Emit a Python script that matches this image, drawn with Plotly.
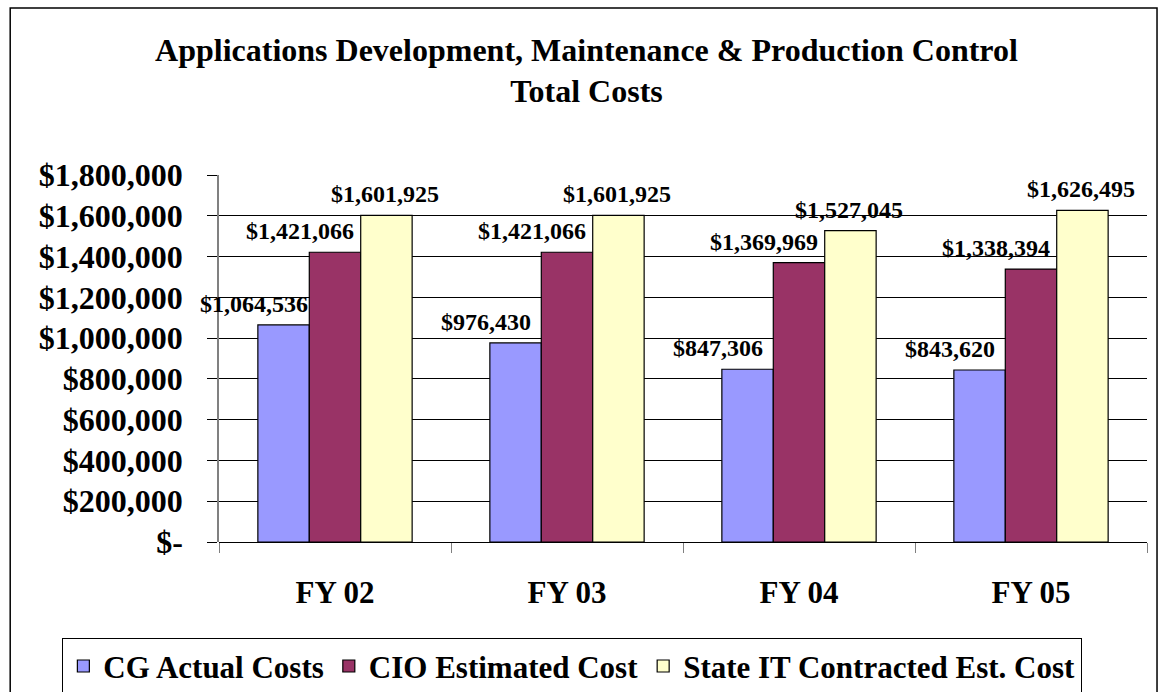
import plotly.graph_objects as go

categories = ["FY 02", "FY 03", "FY 04", "FY 05"]
cg_actual = [1064536, 976430, 847306, 843620]
cio_estimated = [1421066, 1421066, 1369969, 1338394]
state_it = [1601925, 1601925, 1527045, 1626495]

series_names = ["CG Actual Costs", "CIO Estimated Cost", "State IT Contracted Est. Cost"]
series_values = [cg_actual, cio_estimated, state_it]
series_colors = ["#9999FF", "#993366", "#FFFFCC"]
label_xshift = [-81, -35, 50]

tick_vals = [0, 200000, 400000, 600000, 800000, 1000000, 1200000, 1400000, 1600000, 1800000]
tick_text = ["$-", "$200,000", "$400,000", "$600,000", "$800,000", "$1,000,000",
             "$1,200,000", "$1,400,000", "$1,600,000", "$1,800,000"]

FONT = "Liberation Serif"

fig = go.Figure()
for name, vals, col in zip(series_names, series_values, series_colors):
    fig.add_trace(go.Bar(
        x=categories, y=vals, name=name,
        marker=dict(color=col, line=dict(color="black", width=1.2)),
    ))

annotations = []
for vals, xs in zip(series_values, label_xshift):
    for c, v in zip(categories, vals):
        annotations.append(dict(
            x=c, y=v, xref="x", yref="y", text=f"${v:,.0f}",
            showarrow=False, xanchor="center", yanchor="bottom",
            xshift=xs, yshift=6,
            font=dict(family=FONT, size=24, color="black", weight="bold"),
        ))

fig.update_layout(
    width=1159, height=692,
    paper_bgcolor="white", plot_bgcolor="white",
    margin=dict(l=219, r=12, t=175, b=150, autoexpand=False),
    barmode="group", bargap=0.335, bargroupgap=0,
    font=dict(family=FONT, color="black"),
    title=dict(
        text="Applications Development, Maintenance &amp; Production Control<br>Total Costs",
        x=0.506, xanchor="center", y=0.912, yanchor="top", yref="container",
        font=dict(family=FONT, size=32, color="black", weight="bold"),
    ),
    xaxis=dict(
        range=[-0.5, len(categories) - 0.5],
        showgrid=False, ticks="outside", tickson="boundaries", ticklen=10,
        tickcolor="#808080", showline=False, automargin=False,
        tickfont=dict(family=FONT, size=31, color="black", weight="bold"),
        ticklabelstandoff=29,
    ),
    yaxis=dict(
        range=[0, 1800000], tickvals=tick_vals, ticktext=tick_text,
        showgrid=True, gridcolor="black", gridwidth=1,
        ticks="outside", ticklen=10, tickcolor="black", automargin=False,
        showline=True, linecolor="#808080", linewidth=1.5,
        zeroline=True, zerolinecolor="black", zerolinewidth=1,
        tickfont=dict(family=FONT, size=32, color="black", weight="bold"),
        ticklabelstandoff=18,
    ),
    legend=dict(
        orientation="h", x=-0.169, xanchor="left",
        y=-0.262, yanchor="top",
        bordercolor="black", borderwidth=1.2, bgcolor="white",
        font=dict(family=FONT, size=31, color="black", weight="bold"),
        traceorder="normal",
    ),
    annotations=annotations,
    shapes=[dict(type="rect", xref="paper", yref="paper",
                 x0=-0.225, x1=1.0108, y0=-0.43, y1=1.455,
                 line=dict(color="black", width=1.5), fillcolor="rgba(0,0,0,0)",
                 layer="below")],
)

fig.write_html("out.html", config={"displayModeBar": False},
               post_script="document.body.style.margin='0';document.body.style.padding='0';")
